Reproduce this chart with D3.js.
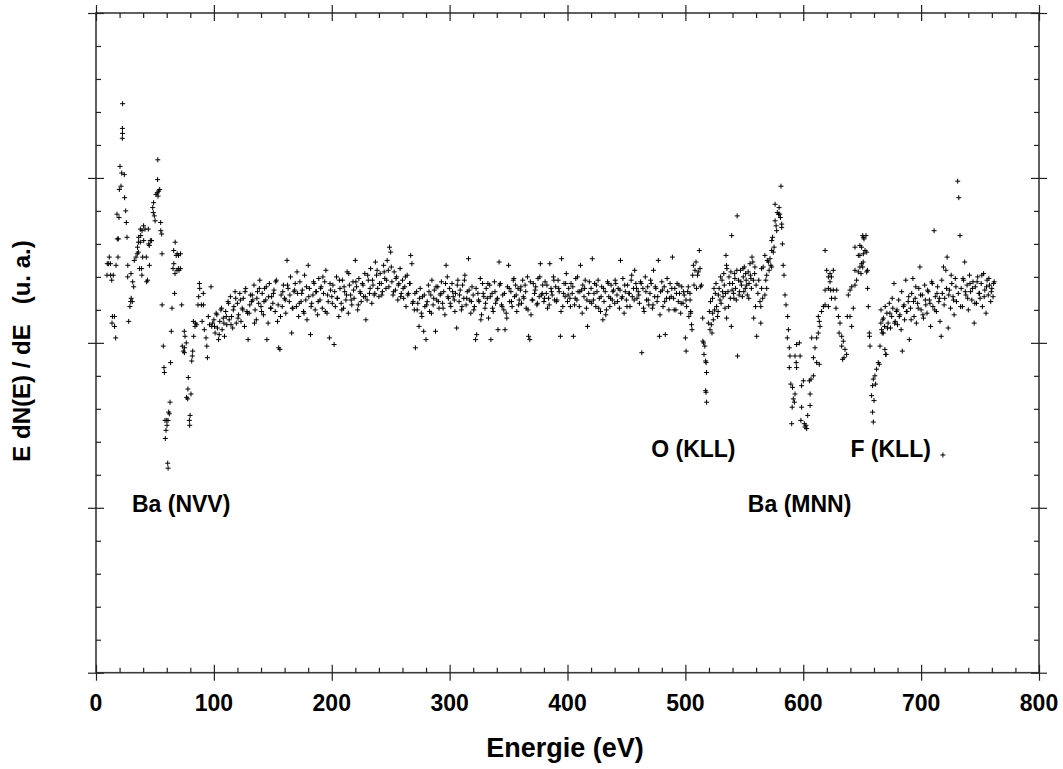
<!DOCTYPE html>
<html><head><meta charset="utf-8">
<script src="https://cdn.jsdelivr.net/npm/d3@7"></script>
<style>
body{margin:0;background:#fff}
text{font-family:"Liberation Sans",Arial,Helvetica,sans-serif;font-weight:bold;fill:#000}
</style>
</head><body>
<svg id="chart" width="1063" height="769"></svg>
<script>
// ---------------- DATA ----------------
const xMajorTicks = [0,100,200,300,400,500,600,700,800];
const yMajorTicks = [0,1,2,3,4];

// Ba (NVV) region, [energy eV, E dN/dE (u.a.)]
const baNVV = [[9.3,2.41],[9.6,2.48],[10.7,2.48],[11.3,2.52],[12.2,2.48],[12.4,2.41],[13.3,2.38],[13.6,2.12],[13.9,2.16],[14.7,2.41],[15.6,2.16],[15.8,2.10],[16.7,2.03],[17.0,2.47],[17.8,2.78],[18.1,2.63],[18.7,2.52],[19.0,2.63],[19.5,2.76],[19.8,2.93],[20.4,3.07],[21.2,2.95],[21.8,3.03],[22.4,3.30],[22.5,3.27],[22.3,3.24],[22.6,3.45],[24.0,3.02],[24.3,2.88],[25.2,2.80],[25.7,2.73],[26.3,2.64],[26.9,2.40],[27.0,2.47],[27.7,2.13],[28.8,2.22],[29.4,2.25],[29.7,2.42],[29.9,2.27],[30.8,2.25],[31.1,2.37],[32.0,2.34],[32.5,2.50],[33.9,2.52],[35.0,2.54],[35.2,2.58],[35.9,2.55],[36.0,2.61],[36.2,2.64],[37.0,2.45],[37.6,2.61],[37.7,2.69],[37.9,2.65],[38.7,2.45],[38.9,2.41],[39.0,2.68],[39.6,2.52],[40.4,2.71],[40.5,2.62],[41.6,2.69],[42.7,2.52],[43.0,2.37],[43.8,2.38],[44.4,2.69],[44.7,2.60],[45.2,2.59],[45.3,2.47],[46.1,2.62],[47.2,2.62],[48.1,2.82],[48.6,2.79],[48.9,2.85],[49.5,2.77],[50.1,2.74],[50.9,2.90],[52.0,2.91],[52.3,2.99],[52.4,3.11],[52.6,2.89],[53.2,2.92],[54.0,2.93],[54.9,2.73],[55.0,2.68],[55.7,2.66],[56.0,2.54],[56.1,2.23],[57.1,1.98],[57.7,1.85],[58.0,1.82],[58.5,1.53],[58.8,1.42],[59.4,1.47],[60.0,1.53],[60.2,1.50],[60.8,1.27],[61.1,1.53],[61.2,1.24],[61.7,1.58],[62.2,1.57],[62.8,1.64],[63.3,1.88],[63.9,2.07],[64.5,2.21],[65.3,2.45],[65.9,2.56],[66.0,2.48],[66.7,2.30],[67.0,2.42],[67.2,2.61],[68.0,2.53],[68.7,2.44],[68.9,2.54],[69.9,2.45],[70.0,2.53],[70.4,2.44],[71.6,2.45],[71.7,2.54],[72.7,2.23],[73.2,1.98],[74.1,1.95],[74.9,2.07],[75.0,1.94],[75.2,1.97],[75.5,2.04],[76.6,2.00],[76.9,1.67],[77.8,1.66],[78.0,1.72],[78.3,1.79],[79.2,1.53],[79.5,1.50],[79.8,1.56],[80.6,1.69],[81.2,1.89],[81.7,1.92],[82.0,1.95],[82.6,2.13],[82.9,2.04],[84.0,2.10],[84.3,2.12],[85.4,2.11],[86.5,2.23],[87.1,2.28],[87.7,2.36],[88.0,2.33],[89.4,2.23],[90.0,2.13],[91.0,2.30],[91.2,2.23],[91.9,2.08],[93.3,2.03],[94.0,1.98],[94.5,1.91],[95.3,2.16],[96.4,2.11],[97.6,2.34],[98.2,2.10],[99.0,2.12]];

// flat background 100 ... 504 eV, one reading per eV
const backgroundStart = 100;
const backgroundStep = 1;
const background = [
2.14,2.06,2.18,2.09,2.02,2.13,2.20,2.08,2.15,2.04,
2.19,2.11,2.25,2.14,2.28,2.16,2.09,2.22,2.31,2.12,
2.24,2.17,2.30,2.13,2.21,2.27,2.10,2.33,2.19,2.02,
2.18,2.29,2.25,2.26,2.35,2.20,2.14,2.31,2.24,2.38,
2.22,2.30,2.17,2.33,2.26,2.02,2.12,2.36,2.21,2.28,
2.24,2.32,2.19,2.38,2.13,1.97,1.96,2.29,2.22,2.35,
2.27,2.18,2.50,2.33,2.25,2.40,2.06,2.21,2.31,2.36,
2.22,2.30,2.16,2.37,2.25,2.32,2.19,2.41,2.26,2.14,
2.47,2.33,2.05,2.24,2.29,2.36,2.20,2.31,2.17,2.39,
2.26,2.34,2.21,2.30,2.37,2.44,2.18,2.25,2.03,2.32,
2.28,2.35,1.99,2.22,2.40,2.27,2.16,2.33,2.24,2.38,
2.21,2.31,2.26,2.43,2.18,2.35,2.29,2.23,2.37,2.27,
2.50,2.34,2.20,2.39,2.31,2.25,2.36,2.28,2.42,2.14,
2.26,2.38,2.30,2.45,2.24,2.35,2.29,2.49,2.41,2.33,
2.28,2.42,2.36,2.31,2.47,2.39,2.33,2.50,2.44,2.58,
2.55,2.37,2.29,2.43,2.32,2.40,2.26,2.36,2.45,2.30,
2.38,2.27,2.34,2.22,2.41,2.30,2.36,2.53,2.48,2.25,
2.20,1.97,2.31,2.24,2.10,2.33,2.18,2.28,2.07,2.22,
2.02,2.25,2.35,2.19,2.29,2.38,2.23,2.32,2.07,2.26,
2.34,2.21,2.29,2.37,2.24,2.31,2.17,2.47,2.40,2.27,
2.33,2.22,2.36,2.28,2.26,2.30,2.09,2.38,2.25,2.32,
2.20,2.35,2.27,2.41,2.23,2.31,2.51,2.26,2.18,2.34,
2.29,2.22,2.02,2.05,2.30,2.25,2.39,2.17,2.36,2.28,
2.21,2.33,2.27,2.15,2.35,2.02,2.30,2.19,2.37,2.24,
2.26,2.08,2.49,2.36,2.23,2.29,2.20,2.08,2.18,2.34,
2.47,2.25,2.31,2.22,2.38,2.28,2.35,2.19,2.33,2.26,
2.32,2.24,2.38,2.27,2.35,2.21,2.40,2.04,2.02,2.17,
2.26,2.36,2.30,2.34,2.23,2.39,2.28,2.48,2.29,2.35,
2.25,2.37,2.30,2.21,2.27,2.48,2.33,2.29,2.40,2.26,
2.34,2.26,2.38,2.31,2.04,2.51,2.22,2.36,2.28,2.42,
2.25,2.33,2.27,2.36,2.30,2.04,2.23,2.39,2.26,2.31,
2.22,2.47,2.32,2.35,2.28,2.38,2.21,2.10,2.30,2.25,
2.33,2.51,2.26,2.36,2.22,2.31,2.38,2.27,2.19,2.34,
2.14,2.25,2.31,2.20,2.37,2.28,2.22,2.35,2.26,2.32,
2.24,2.36,2.29,2.33,2.21,2.50,2.27,2.39,2.18,2.31,
2.26,2.35,2.30,2.22,2.38,2.28,2.33,2.44,2.36,2.27,
2.31,2.24,2.37,1.94,2.33,2.19,2.40,2.26,2.34,2.23,
2.30,2.36,2.21,2.44,2.28,2.33,2.25,2.50,2.04,2.31,
2.37,2.22,2.34,2.05,2.27,2.31,2.20,2.36,2.28,2.52,
2.27,2.33,2.20,2.36,2.25,2.30,2.18,2.34,2.24,2.29,
2.03,2.22,2.31,2.16,2.26];

// second sweep over the background, 100.5 ... 504.5 eV, every 2 eV
const background2Start = 100.5;
const background2Step = 2;
const background2 = [
2.10,2.17,2.05,2.21,2.12,2.16,2.24,2.11,2.20,2.27,
2.15,2.26,2.20,2.31,2.18,2.23,2.29,2.12,2.27,2.33,
2.19,2.25,2.34,2.28,2.21,2.30,2.37,2.23,2.16,2.31,
2.26,2.35,2.29,2.21,2.32,2.43,2.24,2.30,2.18,2.34,
2.28,2.22,2.37,2.31,2.25,2.33,2.40,2.19,2.29,2.36,
2.24,2.31,2.27,2.38,2.20,2.34,2.29,2.42,2.26,2.32,
2.37,2.23,2.30,2.35,2.28,2.41,2.33,2.38,2.30,2.44,
2.36,2.29,2.43,2.38,2.34,2.46,2.31,2.39,2.35,2.28,
2.33,2.40,2.29,2.36,2.24,2.30,2.20,2.27,2.16,2.29,
2.23,2.31,2.18,2.27,2.34,2.25,2.30,2.21,2.36,2.28,
2.24,2.31,2.19,2.35,2.29,2.22,2.38,2.27,2.32,2.25,
2.20,2.33,2.26,2.14,2.30,2.24,2.36,2.28,2.21,2.31,
2.27,2.35,2.22,2.30,2.15,2.33,2.25,2.39,2.29,2.23,
2.34,2.28,2.31,2.20,2.37,2.26,2.32,2.24,2.40,2.30,
2.27,2.35,2.23,2.31,2.38,2.25,2.33,2.19,2.30,2.36,
2.29,2.22,2.34,2.27,2.40,2.31,2.18,2.33,2.26,2.37,
2.24,2.30,2.35,2.21,2.28,2.33,2.17,2.36,2.27,2.31,
2.38,2.25,2.32,2.28,2.35,2.22,2.30,2.41,2.26,2.33,
2.29,2.36,2.21,2.31,2.26,2.38,2.23,2.34,2.28,2.17,
2.32,2.25,2.39,2.27,2.33,2.20,2.30,2.35,2.24,2.31,
2.26,2.34,2.19];

// O (KLL) region
const oKLL = [[500.6,1.95],[503.9,2.30],[504.5,2.18],[505.2,2.11],[505.6,2.08],[506.2,2.41],[506.8,2.47],[507.3,2.35],[508.2,2.44],[509.0,2.49],[509.4,2.33],[510.3,2.41],[511.0,2.43],[511.8,2.56],[512.4,2.45],[513.0,2.34],[513.6,2.35],[514.7,2.15],[514.9,2.01],[515.5,2.00],[516.5,1.98],[515.8,1.93],[517.2,1.89],[517.6,1.88],[517.9,1.82],[517.2,1.71],[517.5,1.70],[518.0,1.64],[519.5,2.12],[520.4,2.19],[520.9,2.08],[521.3,2.25],[522.0,2.11],[522.6,2.06],[523.0,2.27],[523.7,2.14],[523.2,2.18],[524.3,2.33],[524.8,2.20],[525.4,2.30],[526.0,2.36],[526.5,2.22],[527.3,2.16],[527.8,2.19],[528.0,2.29],[528.6,2.33],[529.4,2.26],[529.9,2.40],[530.3,2.24],[531.1,2.38],[531.6,2.31],[532.0,2.28],[532.6,2.42],[533.0,2.35],[533.6,2.21],[534.0,2.30],[534.5,2.53],[534.9,2.47],[535.2,2.45],[535.0,2.15],[536.2,2.31],[536.7,2.22],[537.0,2.40],[537.6,2.36],[538.1,2.27],[538.6,2.43],[539.3,2.65],[539.0,2.10],[539.6,2.32],[540.0,2.36],[540.9,2.30],[541.2,2.27],[541.8,2.42],[542.0,2.39],[542.5,2.33],[543.2,2.26],[543.7,2.44],[544.0,2.77],[544.3,1.92],[545.1,2.38],[545.6,2.29],[546.0,2.31],[546.8,2.44],[547.1,2.37],[547.6,2.35],[548.4,2.28],[548.9,2.45],[549.1,2.40],[549.6,2.31],[550.0,2.46],[550.8,2.33],[551.1,2.42],[551.6,2.38],[552.0,2.35],[552.5,2.29],[553.3,2.43],[553.8,2.27],[554.1,2.36],[554.8,2.48],[555.2,2.41],[555.6,2.39],[556.0,2.33],[556.5,2.52],[557.2,2.49],[557.7,2.38],[558.0,2.15],[558.7,2.42],[559.0,2.46],[559.5,2.22],[560.0,2.35],[560.5,2.04]];

// Ba (MNN) region
const baMNN = [[561.5,2.30],[562.3,2.38],[563.3,2.25],[564.0,2.22],[564.0,2.12],[564.7,2.33],[564.7,2.45],[565.6,2.27],[566.0,2.46],[567.5,2.29],[567.5,2.53],[568.2,2.38],[569.0,2.33],[569.0,2.41],[569.5,2.50],[570.4,2.49],[571.0,2.44],[571.8,2.51],[572.5,2.47],[573.2,2.46],[573.2,2.56],[573.2,2.62],[574.0,2.64],[574.6,2.55],[575.3,2.58],[576.1,2.74],[576.1,2.84],[577.0,2.71],[577.5,2.68],[578.0,2.79],[579.0,2.78],[579.5,2.82],[580.0,2.78],[580.6,2.76],[581.1,2.95],[581.7,2.72],[581.7,2.70],[582.3,2.60],[583.0,2.47],[583.7,2.41],[584.5,2.29],[585.4,2.23],[586.8,2.16],[587.4,2.08],[586.5,2.03],[588.2,1.97],[588.8,1.92],[588.2,1.85],[589.4,1.75],[591.0,1.73],[593.0,1.69],[591.6,1.66],[592.5,1.64],[590.6,1.61],[590.2,1.51],[594.4,1.99],[596.7,2.00],[593.0,1.92],[597.3,1.92],[594.0,1.88],[594.4,1.85],[598.6,1.61],[598.0,1.53],[600.9,1.51],[602.3,1.50],[602.9,1.48],[601.5,1.49],[603.8,1.56],[605.8,1.62],[605.2,1.77],[606.6,1.78],[608.6,1.80],[600.1,1.77],[598.6,1.74],[605.8,1.69],[607.2,2.03],[611.4,2.03],[610.0,1.97],[608.6,1.91],[611.4,1.88],[613.6,1.87],[612.8,2.06],[614.2,2.10],[613.6,2.13],[612.8,2.16],[615.6,2.19],[617.1,2.22],[618.5,2.23],[621.3,2.22],[618.5,2.56],[618.5,2.32],[621.3,2.33],[623.3,2.32],[625.5,2.32],[628.4,2.32],[619.9,2.44],[621.3,2.40],[622.7,2.42],[624.0,2.40],[625.5,2.44],[622.7,2.37],[624.0,2.27],[626.9,2.27],[627.8,2.21],[629.8,2.16],[631.2,2.12],[630.4,2.06],[632.6,2.04],[634.0,2.01],[632.6,1.98],[635.4,1.96],[633.4,1.90],[636.8,1.93],[634.6,1.91]];

// F (KLL) region
const fKLL = [[637.4,2.16],[639.7,2.16],[641.1,2.10],[642.5,2.21],[638.2,2.29],[639.7,2.32],[641.1,2.34],[643.9,2.35],[645.3,2.38],[643.9,2.44],[646.7,2.43],[648.1,2.46],[649.5,2.48],[646.7,2.53],[648.1,2.53],[651.0,2.54],[643.9,2.58],[648.1,2.59],[652.4,2.56],[651.0,2.64],[650.4,2.65],[651.5,2.63],[649.5,2.58],[653.2,2.65],[653.8,2.55],[650.9,2.49],[650.4,2.46],[649.0,2.42],[653.8,2.43],[654.4,2.44],[654.6,2.33],[655.2,2.22],[656.0,2.06],[656.2,2.04],[656.6,1.98],[663.7,1.88],[664.5,1.87],[662.2,1.84],[660.8,1.80],[659.4,1.78],[661.4,1.75],[658.8,1.74],[658.0,1.68],[660.0,1.65],[658.8,1.58],[659.4,1.52],[665.1,1.98],[669.3,1.96],[670.2,1.93],[666.5,2.08],[667.9,2.06],[665.9,2.12],[718.5,1.32]];

// tail 666 ... 762 eV, one reading per eV
const tailStart = 666;
const tailStep = 1;
const tail = [
2.20,2.06,2.15,2.10,
1.93,2.18,2.12,2.24,2.09,2.16,2.21,2.36,2.13,2.19,
2.11,2.26,2.17,2.08,1.95,2.22,2.14,2.38,2.19,2.25,
2.02,2.21,2.30,2.39,2.16,2.27,2.12,2.24,2.33,2.46,
2.20,2.29,2.15,2.35,2.23,2.18,2.31,2.26,2.10,2.37,
2.22,2.68,2.28,2.19,2.34,2.25,2.13,2.04,2.30,2.46,
2.27,2.44,2.52,2.09,2.32,2.21,2.36,2.28,2.17,2.39,
2.25,2.98,2.88,2.65,2.33,2.22,2.38,2.49,2.29,2.35,
2.20,2.41,2.31,2.26,2.37,2.12,2.34,2.24,2.40,2.30,
2.27,2.36,2.22,2.42,2.32,2.18,2.38,2.29,2.35,2.25,
2.33,2.28,2.37];

// second sweep over the tail, 667.5 ... 761.5 eV, every 2 eV
const tail2Start = 667.5;
const tail2Step = 2;
const tail2 = [
2.14,2.22,2.09,2.18,2.27,2.12,2.20,2.16,2.31,2.23,
2.19,2.28,2.14,2.25,2.34,2.21,2.29,2.17,2.26,2.32,
2.24,2.36,2.20,2.30,2.27,2.38,2.23,2.33,2.29,2.41,
2.26,2.34,2.30,2.22,2.39,2.31,2.27,2.36,2.33,2.24,
2.37,2.30,2.41,2.28,2.34,2.39,2.31,2.36];

const annotations = [
  {label:"Ba (NVV)", e:30.5, v:0.975},
  {label:"O (KLL)", e:471, v:1.305},
  {label:"Ba (MNN)", e:553, v:0.975},
  {label:"F (KLL)", e:640, v:1.305}
];
const xTitle = "Energie (eV)";
const yTitle = "E dN(E) / dE   (u. a.)";

// ---------------- CHART ----------------
const svg = d3.select("#chart");
const L = 96, R = 1039, T = 13, B = 672.7;
const x = d3.scaleLinear().domain([0, 800]).range([L, R]);
const y = d3.scaleLinear().domain([0, 4]).range([B, T]);

const xMinor = d3.range(0, 801, 20).filter(v => v % 100 !== 0);
const yMinor = d3.range(0, 4.01, 0.2).map(v => +v.toFixed(1)).filter(v => Math.abs(v - Math.round(v)) > 1e-6);

function styleAxis(g){
  g.select(".domain").remove();
  g.selectAll(".tick line").attr("stroke", "#222").attr("stroke-width", 1.2);
  g.selectAll(".tick text").remove();
}

// frame
svg.append("rect").attr("x", L).attr("y", T).attr("width", R - L).attr("height", B - T)
  .attr("fill", "none").attr("stroke", "#3a3a3a").attr("stroke-width", 1.6);

function ticks(g, axisFn, scale){
  g.append("g").call(axisFn(scale).tickValues(xMajorTicks.length && scale === x ? xMajorTicks : yMajorTicks).tickSize(8)).call(styleAxis);
  g.append("g").call(axisFn(scale).tickValues(scale === x ? xMajorTicks : yMajorTicks).tickSize(-8)).call(styleAxis);
  g.append("g").call(axisFn(scale).tickValues(scale === x ? xMinor : yMinor).tickSize(-5)).call(styleAxis);
}
ticks(svg.append("g").attr("transform", `translate(0,${B})`), d3.axisBottom, x);
ticks(svg.append("g").attr("transform", `translate(0,${T})`), d3.axisTop, x);
ticks(svg.append("g").attr("transform", `translate(${L},0)`), d3.axisLeft, y);
ticks(svg.append("g").attr("transform", `translate(${R},0)`), d3.axisRight, y);

// x tick labels
svg.append("g").selectAll("text").data(xMajorTicks).join("text")
  .attr("x", d => x(d)).attr("y", 711).attr("text-anchor", "middle")
  .attr("font-size", 23).text(d => d);

// titles
svg.append("text").attr("x", 565).attr("y", 757).attr("text-anchor", "middle")
  .attr("font-size", 27).text(xTitle);
svg.append("text").attr("transform", `translate(30,351) rotate(-90)`)
  .attr("text-anchor", "middle").attr("font-size", 24).attr("xml:space", "preserve")
  .style("white-space", "pre").text(yTitle);

// annotations
svg.append("g").selectAll("text").data(annotations).join("text")
  .attr("x", d => x(d.e)).attr("y", d => y(d.v)).attr("font-size", 23).text(d => d.label);

// points
const pts = [];
baNVV.forEach(d => pts.push(d));
background.forEach((v, i) => pts.push([backgroundStart + i * backgroundStep, v]));
background2.forEach((v, i) => pts.push([background2Start + i * background2Step, v]));
oKLL.forEach(d => pts.push(d));
baMNN.forEach(d => pts.push(d));
fKLL.forEach(d => pts.push(d));
tail.forEach((v, i) => pts.push([tailStart + i * tailStep, v]));
tail2.forEach((v, i) => pts.push([tail2Start + i * tail2Step, v]));

svg.append("g").selectAll("path").data(pts).join("path")
  .attr("transform", d => `translate(${x(d[0]).toFixed(1)},${y(d[1]).toFixed(1)})`)
  .attr("d", "M-2.5,0H2.5M0,-2.5V2.5")
  .attr("stroke", "#000").attr("stroke-width", 1).attr("fill", "none");
</script>
</body></html>
